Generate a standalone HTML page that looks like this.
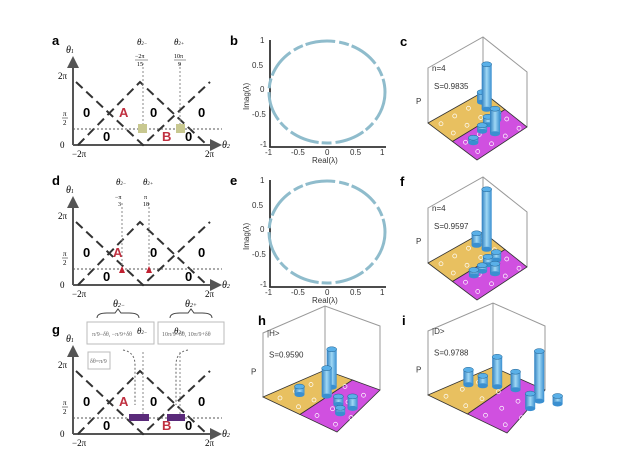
<!DOCTYPE html>
<html><head><meta charset="utf-8">
<style>
html,body{margin:0;padding:0;background:#fff;}
svg{display:block;font-family:"Liberation Serif",serif;}
.lab{font-family:"Liberation Sans",sans-serif;font-weight:bold;font-size:13px;}
.z{font-family:"Liberation Sans",sans-serif;font-weight:bold;font-size:13px;}
.t{font-size:8px;fill:#333;font-family:"Liberation Sans",sans-serif;}
</style></head>
<body>
<svg id="s" width="640" height="456" viewBox="0 0 640 456" xmlns="http://www.w3.org/2000/svg">
<defs>
<linearGradient id="bl" x1="0" x2="1"><stop offset="0" stop-color="#2f7fc0"/><stop offset=".5" stop-color="#9fd8f5"/><stop offset="1" stop-color="#3a8fd0"/></linearGradient>
<marker id="ar" markerWidth="6" markerHeight="6" refX="5" refY="3" orient="auto"><path d="M0,0L6,3L0,6z" fill="#555"/></marker>
</defs>
<g id="root"></g>
</svg>
<script>
var R=document.getElementById('root'),h='';
function diag(oy,kind){
 var x0=73,y0=145+oy,yt=82+oy;
 h+='<text class="lab" x="52" y="'+(45+oy)+'">'+['a','d','g'][kind]+'</text>';
 h+='<line x1="'+x0+'" y1="'+y0+'" x2="'+x0+'" y2="'+(58+oy)+'" stroke="#555" stroke-width="2" marker-end="url(#ar)"/>';
 h+='<line x1="'+x0+'" y1="'+y0+'" x2="220" y2="'+y0+'" stroke="#555" stroke-width="2" marker-end="url(#ar)"/>';
 h+='<text x="66" y="'+(53+oy)+'" font-size="10" font-style="italic">θ<tspan font-size="6">1</tspan></text>';
 h+='<text x="222" y="'+(148+oy)+'" font-size="10" font-style="italic">θ<tspan font-size="6">2</tspan></text>';
 h+='<text x="58" y="'+(79+oy)+'" font-size="9">2π</text>';
 h+='<text x="60" y="'+(148+oy)+'" font-size="9">0</text>';
 h+='<text x="63" y="'+(116+oy)+'" font-size="7">π</text><line x1="62" y1="'+(118+oy)+'" x2="68" y2="'+(118+oy)+'" stroke="#333" stroke-width=".6"/><text x="63" y="'+(125+oy)+'" font-size="7">2</text>';
 h+='<text x="72" y="'+(157+oy)+'" font-size="9">−2π</text><text x="205" y="'+(157+oy)+'" font-size="9">2π</text>';
 var d='stroke="#333" stroke-width="2" stroke-dasharray="9,5" fill="none"';
 h+='<path d="M76,'+yt+'L143,'+y0+'L210,'+yt+'" '+d+'/>';
 h+='<path d="M78,'+y0+'L140,'+yt+'L207,'+y0+'" '+d+'/>';
 h+='<line x1="73" y1="'+(129+oy)+'" x2="222" y2="'+(129+oy)+'" stroke="#555" stroke-dasharray="2,2"/>';
 var cx=[143,180];
 if(kind==1)cx=[122,149];
 cx.forEach(function(c){h+='<line x1="'+c+'" y1="'+(63+oy)+'" x2="'+c+'" y2="'+(129+oy)+'" stroke="#888" stroke-dasharray="2,2"/>';});
 h+='<text x="'+(cx[0]-6)+'" y="'+(45+oy)+'" font-size="9" font-style="italic">θ<tspan font-size="5">2−</tspan></text>';
 h+='<text x="'+(cx[1]-6)+'" y="'+(45+oy)+'" font-size="9" font-style="italic">θ<tspan font-size="5">2+</tspan></text>';
 if(kind==0){
  h+='<text x="135" y="58" font-size="6">−2π</text><line x1="135" y1="60" x2="148" y2="60" stroke="#333" stroke-width=".5"/><text x="137" y="66" font-size="6">15</text>';
  h+='<text x="174" y="58" font-size="6">10π</text><line x1="174" y1="60" x2="186" y2="60" stroke="#333" stroke-width=".5"/><text x="178" y="66" font-size="6">9</text>';
  h+='<rect x="138" y="124" width="9" height="9" fill="#c8c890"/><rect x="176" y="124" width="9" height="9" fill="#c8c890"/>';
 } else if(kind==1){
  h+='<text x="115" y="'+(59+oy)+'" font-size="6">−π</text><text x="118" y="'+(66+oy)+'" font-size="6">3</text>';
  h+='<text x="144" y="'+(59+oy)+'" font-size="6">π</text><text x="143" y="'+(66+oy)+'" font-size="6">18</text>';
  h+='<path d="M119,'+(133+oy)+'l3,-7l3,7z M146,'+(133+oy)+'l3,-7l3,7z" fill="#c02030"/>';
 } else {
  h+='<rect x="129" y="125" width="20" height="7" fill="#5a2a7a" transform="translate(0,'+oy+')"/><rect x="167" y="125" width="18" height="7" fill="#5a2a7a" transform="translate(0,'+oy+')"/>';
 }
 var ty=[117,141];
 h+='<text class="z" x="83" y="'+(ty[0]+oy)+'">0</text><text class="z" x="150" y="'+(ty[0]+oy)+'">0</text><text class="z" x="198" y="'+(ty[0]+oy)+'">0</text>';
 h+='<text class="z" x="103" y="'+(ty[1]+oy)+'">0</text><text class="z" x="185" y="'+(ty[1]+oy)+'">0</text>';
 h+='<text class="z" x="'+(kind==1?113:119)+'" y="'+(ty[0]+oy)+'" fill="#c03040">A</text>';
 if(kind!=1)h+='<text class="z" x="162" y="'+(ty[1]+oy)+'" fill="#c03040">B</text>';
}
diag(0,0);diag(140,1);diag(289,2);
h+='<text x="113" y="307" font-size="10" font-style="italic">θ<tspan font-size="6">2−</tspan></text><text x="185" y="307" font-size="10" font-style="italic">θ<tspan font-size="6">2+</tspan></text>';
h+='<path d="M97,318q0,-5 10,-5h8l3,-4l3,4h8q10,0 10,5 M170,318q0,-5 10,-5h8l3,-4l3,4h8q10,0 10,5" fill="none" stroke="#444"/>';
h+='<rect x="87" y="322" width="67" height="22" fill="none" stroke="#bbb"/><rect x="158" y="322" width="66" height="22" fill="none" stroke="#bbb"/>';
h+='<text x="92" y="336" font-size="6" fill="#666">π/9−δθ, −π/9+δθ</text><text x="162" y="336" font-size="6" fill="#666">10π/9−δθ, 10π/9+δθ</text>';
h+='<rect x="88" y="352" width="22" height="17" fill="none" stroke="#bbb"/><text x="90" y="363" font-size="6" fill="#666">δθ=π/9</text>';
h+='<path d="M123,350q12,2 12,15v40 M188,350q-12,2 -12,15v40" fill="none" stroke="#666" stroke-dasharray="2,2"/>';
function circ(oy,l){
 h+='<text class="lab" x="230" y="'+(45+oy)+'">'+l+'</text>';
 h+='<path d="M270,'+(40+oy)+'V'+(147+oy)+'H386" stroke="#333" stroke-width="1.8" fill="none"/>';
 h+='<ellipse cx="327" cy="'+(92+oy)+'" rx="58" ry="51" fill="none" stroke="#8fbccc" stroke-width="3" stroke-dasharray="30,4,10,3"/>';
 [['1',43],['0.5',68],['0',92],['-0.5',117],['-1',147]].forEach(function(a){h+='<text class="t" x="'+(a[0].length>2?252:260)+'" y="'+(a[1]+oy)+'">'+a[0]+'</text>';});
 [['-1',265],['-0.5',291],['0',325],['0.5',350],['1',380]].forEach(function(a){h+='<text class="t" x="'+a[1]+'" y="'+(155+oy)+'">'+a[0]+'</text>';});
 h+='<text class="t" x="312" y="'+(163+oy)+'">Real(λ)</text>';
 h+='<text class="t" transform="translate(249,'+(110+oy)+') rotate(-90)">Imag(λ)</text>';
}
circ(0,'b');circ(140,'e');
function bar3(P,lab,title,S,bars){
 var L=P.L,B=P.B,Rr=P.R,T=P.T,up=P.up;
 function pt(u,v){return [L[0]+u*(T[0]-L[0])+v*(B[0]-L[0]),L[1]+u*(T[1]-L[1])+v*(B[1]-L[1])];}
 h+='<text class="lab" x="'+P.lx+'" y="'+P.ly+'">'+lab+'</text>';
 var s='stroke="#999" stroke-width="1" fill="none"';
 h+='<path d="M'+L+'V'+(L[1]-up)+'L'+T[0]+','+(T[1]-up)+'L'+Rr[0]+','+(Rr[1]-up)+'V'+Rr[1]+' M'+T+'V'+(T[1]-up)+'" '+s+'/>';
 var mTR=[(T[0]+Rr[0])/2,(T[1]+Rr[1])/2],mLB=[(L[0]+B[0])/2,(L[1]+B[1])/2];
 h+='<polygon points="'+[L,T,mTR,mLB].join(' ')+'" fill="#e8c060" stroke="#333" stroke-width=".8"/>';
 h+='<polygon points="'+[mLB,mTR,Rr,B].join(' ')+'" fill="#d050e0" stroke="#333" stroke-width=".8"/>';
 for(var i=0;i<4;i++)for(var j=0;j<4;j++){var p=pt((i+.5)/4,(j+.5)/4);h+='<circle cx="'+p[0]+'" cy="'+p[1]+'" r="2" fill="none" stroke="#fff" stroke-width=".7"/>';}
 h+='<text class="t" x="'+(L[0]+6)+'" y="'+(L[1]-up*0.62)+'">'+S+'</text>';
 h+='<text class="t" x="'+(L[0]+4)+'" y="'+(L[1]-up*0.95)+'" font-size="6">'+title+'</text>';
 h+='<text class="t" x="'+(L[0]-12)+'" y="'+(L[1]-up*0.35)+'">P</text>';
 bars.sort(function(a,b){return (a[1]-a[0])-(b[1]-b[0]);});
 bars.forEach(function(b){var p=pt(b[0],b[1]),hh=b[2];
  h+='<rect x="'+(p[0]-5)+'" y="'+(p[1]-hh)+'" width="10" height="'+hh+'" fill="url(#bl)"/>';
  h+='<ellipse cx="'+p[0]+'" cy="'+p[1]+'" rx="5" ry="2.5" fill="#3a8fd0"/><ellipse cx="'+p[0]+'" cy="'+(p[1]-hh)+'" rx="5" ry="2.5" fill="#5ab0e8" stroke="#1e5f90" stroke-width=".5"/>';});
}
bar3({L:[428,123],B:[477,160],R:[527,127],T:[483,92],up:55,lx:400,ly:46},'c','n=4','S=0.9835',[[.6,.55,8],[.45,.6,6],[.8,.3,45],[.85,.15,10],[.55,.75,25],[.75,.55,8],[.2,.7,5]]);
bar3({L:[428,263],B:[477,300],R:[527,267],T:[483,232],up:55,lx:400,ly:186},'f','n=4','S=0.9597',[[.6,.55,8],[.45,.6,6],[.8,.3,60],[.75,.15,12],[.55,.75,10],[.75,.55,8],[.3,.6,6]]);
bar3({L:[263,397],B:[337,432],R:[380,390],T:[325,370],up:64,lx:258,ly:325},'h','|H&gt;','S=0.9590',[[.75,.3,38],[.55,.4,28],[.35,.2,8],[.55,.75,12],[.5,.6,8],[.35,.75,6]]);
bar3({L:[428,395],B:[507,433],R:[545,390],T:[493,367],up:64,lx:402,ly:325},'i','|D&gt;','S=0.9788',[[.5,.1,15],[.6,.2,10],[.7,.3,30],[.8,.45,18],[.8,.75,50],[.6,.8,15],[.9,.9,8]]);
R.innerHTML=h;
</script>
</body></html>
